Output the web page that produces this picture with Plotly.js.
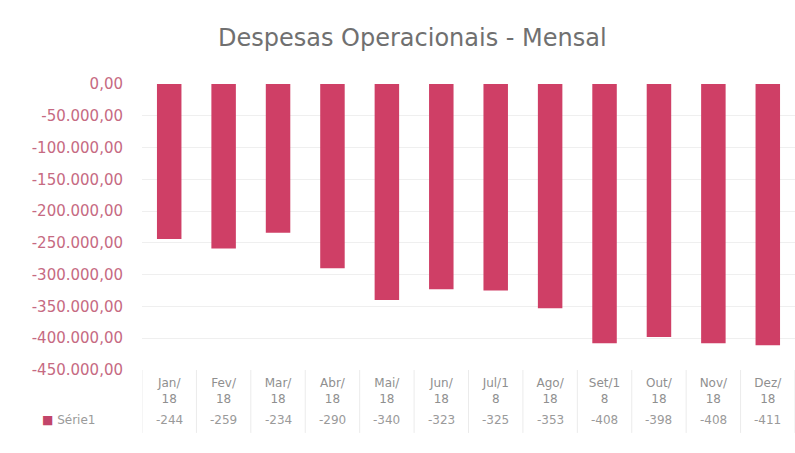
<!DOCTYPE html>
<html><head><meta charset="utf-8">
<script src="https://cdn.plot.ly/plotly-3.0.1.min.js"></script>
<style>html,body{margin:0;padding:0;background:#fff}#chart{width:795px;height:453px}</style>
</head><body><div id="chart"></div>
<script>
const months = ['Jan','Fev','Mar','Abr','Mai','Jun','Jul/1','Ago','Set/1','Out','Nov','Dez'];
const monthLabels = ['Jan/<br>18','Fev/<br>18','Mar/<br>18','Abr/<br>18','Mai/<br>18','Jun/<br>18','Jul/1<br>8','Ago/<br>18','Set/1<br>8','Out/<br>18','Nov/<br>18','Dez/<br>18'];
const tableValues = [-244,-259,-234,-290,-340,-323,-325,-353,-408,-398,-408,-411];
const values = tableValues.map(v => v * 1000);
const seriesName = 'Série1';
const yTicks = [0,-50000,-100000,-150000,-200000,-250000,-300000,-350000,-400000,-450000];

const fmt = v => {
  const s = Math.abs(v).toFixed(2).split('.');
  const int = s[0].replace(/\B(?=(\d{3})+(?!\d))/g, '.');
  return (v < 0 ? '-' : '') + int + ',' + s[1];
};

const FONT = 'DejaVu Sans, sans-serif';
const idx = months.map((_, i) => i);
const trace = {
  type: 'bar', x: idx, y: values, name: seriesName,
  marker: {color: '#cf3f66'}, hoverinfo: 'skip'
};

const annotations = [{
  text: 'Despesas Operacionais - Mensal', xref: 'paper', yref: 'paper',
  x: 0.415, y: 1, yshift: 46, xanchor: 'center', yanchor: 'middle', showarrow: false,
  font: {family: FONT, size: 24, color: '#707070'}
}, {
  text: '<span style="color:#c2456a">■</span> ' + seriesName, xref: 'paper', yref: 'paper',
  x: 0, xshift: -102, y: 0, yshift: -50, xanchor: 'left', yanchor: 'middle', showarrow: false,
  font: {family: FONT, size: 12, color: '#9a9a9a'}
}];
tableValues.forEach((v, i) => annotations.push({
  text: String(v), xref: 'x', yref: 'paper', x: i, y: 0, yshift: -50,
  xanchor: 'center', yanchor: 'middle', showarrow: false,
  font: {family: FONT, size: 12, color: '#9a9a9a'}
}));

const shapes = [];
for (let i = 0; i <= months.length; i++) {
  shapes.push({type: 'line', xref: 'x', yref: 'paper', x0: i - 0.5, x1: i - 0.5, y0: 0, y1: -0.22,
    line: {color: '#ebebeb', width: 1}});
}

const layout = {
  width: 795, height: 453,
  margin: {l: 142, r: 0, t: 84, b: 83},
  paper_bgcolor: '#fff', plot_bgcolor: '#fff',
  showlegend: false, bargap: 0.55,
  xaxis: {
    tickmode: 'array', tickvals: idx, ticktext: monthLabels,
    range: [-0.5, 11.5], showgrid: false, zeroline: false, showline: false, ticks: '',
    tickfont: {family: FONT, size: 12, color: '#8f8f8f'}, tickangle: 0, ticklabelstandoff: 4
  },
  yaxis: {
    range: [-450000, 0], tickmode: 'array', tickvals: yTicks, ticktext: yTicks.map(fmt),
    showgrid: true, gridcolor: '#efefef', zeroline: false, showline: false, ticks: '',
    tickfont: {family: FONT, size: 15, color: '#c66a82'}, ticklabelstandoff: 18
  },
  annotations, shapes
};
Plotly.newPlot('chart', [trace], layout, {displayModeBar: false, staticPlot: true});
</script></body></html>
